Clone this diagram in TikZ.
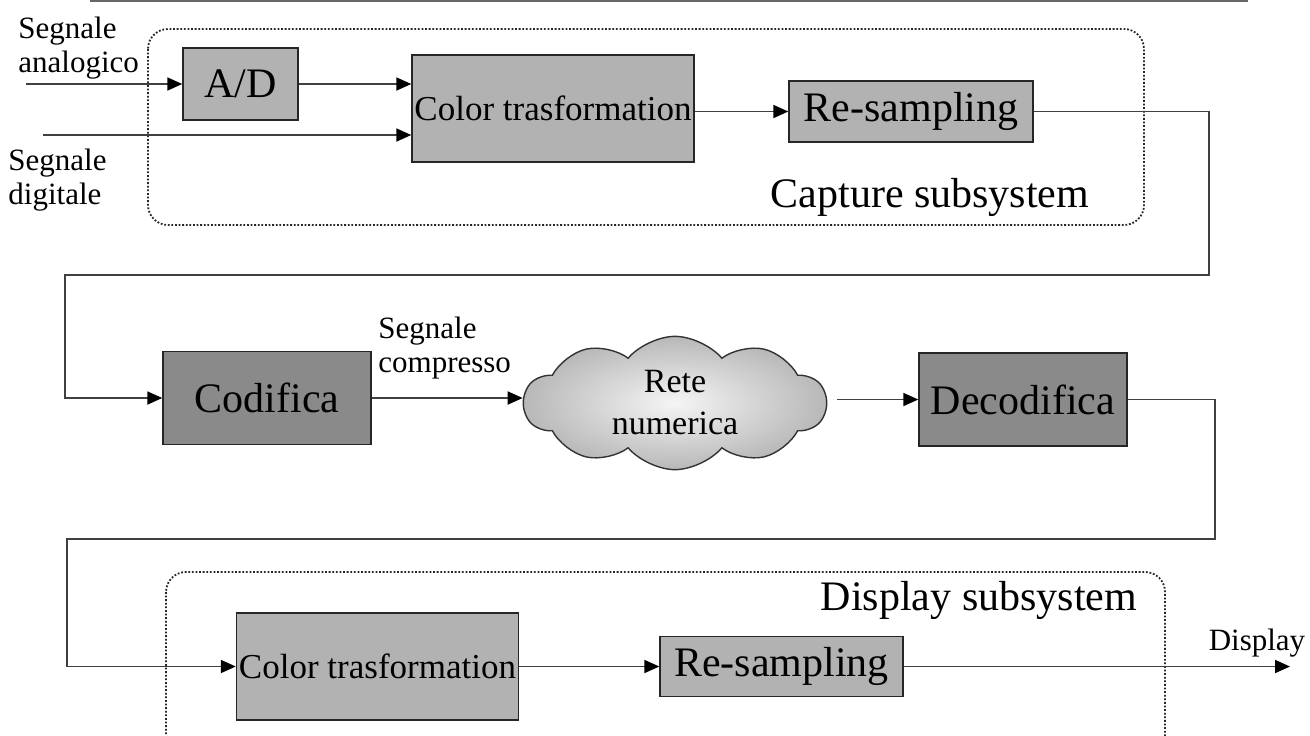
\documentclass[tikz,border=0pt]{standalone}
\usepackage{fontspec}
\setmainfont{Liberation Serif}
\usetikzlibrary{arrows.meta,shapes.symbols}

\begin{document}
\begin{tikzpicture}[x=0.5pt,y=-0.5pt,
  >={Triangle[length=7.5pt,width=6.5pt,color=black]},
  lightblk/.style={draw=black!85,line width=0.7pt,fill=black!30,inner sep=0pt},
  darkblk/.style={draw=black!85,line width=0.7pt,fill=black!46,inner sep=0pt},
  link/.style={->,draw=black!75,line width=0.9pt},
  subsys/.style={draw=black!85,line width=0.9pt,dash pattern=on 0.9pt off 0.9pt,rounded corners=10pt},
  lbl/.style={align=left,anchor=north west,inner sep=0pt,font=\fontsize{15.5}{17}\selectfont},
  big/.style={font=\fontsize{21}{24}\selectfont},
  mid/.style={font=\fontsize{17.5}{20}\selectfont}]
 \useasboundingbox (0,0) rectangle (1310,735);
 \clip (0,0) rectangle (1310,735);
 \draw[black!60,line width=1pt] (90,1) -- (1248,1); %riga in alto

 % capture subsystem
 \draw[subsys] (148,29) rectangle (1144,225);
 \node[lightblk,minimum width=57.5pt,minimum height=36pt,font=\fontsize{21}{24}\selectfont] (ad) at (240.5,84) {A/D};
 \node[lightblk,mid,minimum width=141pt,minimum height=53.5pt] (ct1) at (553,108.5) {Color trasformation};
 \node[lightblk,big,minimum width=122pt,minimum height=30.5pt] (rs1) at (911,111.5) {Re-sampling};
 \node[big,anchor=base] (cap) at (930,207) {Capture subsystem};
 \node[lbl] (sa) at (18,17) {Segnale\\analogico};
 \node[lbl] (sd) at (8,149) {Segnale\\digitale};

 % rete
 \node[darkblk,big,minimum width=104pt,minimum height=46.5pt] (cod) at (267,398) {Codifica};
 \node[cloud,cloud puffs=10,cloud puff arc=100,cloud ignores aspect,minimum width=151pt,minimum height=60pt,
   draw=black!80,line width=0.7pt,inner color=black!4,outer color=black!28,align=center,
   font=\fontsize{17}{21}\selectfont] (net) at (675,403) {Rete\\numerica};
 \node[darkblk,big,minimum width=104pt,minimum height=46.5pt] (dec) at (1023,399.5) {Decodifica};
 \node[lbl] (sc) at (378,317) {Segnale\\compresso};

 % display subsystem
 \draw[subsys] (166,572) rectangle (1165,760);
 \node[lightblk,mid,minimum width=141pt,minimum height=53.5pt] (ct2) at (377.5,666.5) {Color trasformation};
 \node[lightblk,big,minimum width=121.5pt,minimum height=30pt] (rs2) at (781.5,666.5) {Re-sampling};
 \node[big,anchor=base] (dsp) at (979,610) {Display subsystem};
 \node[font=\fontsize{15.5}{17}\selectfont,anchor=base] (out) at (1257,650) {Display};

 \coordinate (ain) at (26,84);
 \coordinate (din) at (43,135);
 \coordinate (dout) at (1290,666.5);
 \coordinate (r1) at (1209,275);
 \coordinate (l1) at (65,275);
 \coordinate (r2) at (1215,539);
 \coordinate (l2) at (67,539);

 \draw[link] (ain) -- (ad.west);
 \draw[link] (ad.east) -- (ad.east -| ct1.west);
 \draw[link] (din) -- (din -| ct1.west);
 \draw[link] (ct1.east |- rs1.west) -- (rs1.west);
 \draw[link] (rs1.east) -| (r1) -- (l1) |- (cod.west);
 \draw[link] (cod.east) -- (cod.east -| net.west);
 \draw[link,shorten <=5pt] (net.east |- dec.west) -- (dec.west);
 \draw[link] (dec.east) -| (r2) -- (l2) |- (ct2.west);
 \draw[link] (ct2.east) -- (ct2.east -| rs2.west);
 \draw[link] (rs2.east) -- (dout);
\end{tikzpicture}
\end{document}
